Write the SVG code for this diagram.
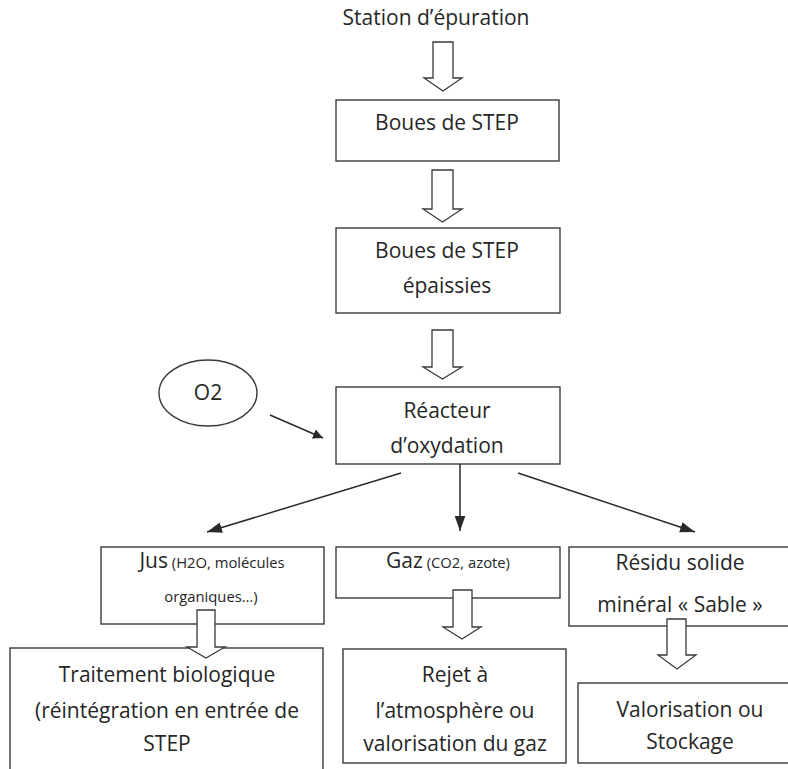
<svg xmlns="http://www.w3.org/2000/svg" width="788" height="769" viewBox="0 0 788 769">
  <style>
    .box { fill: #ffffff; stroke: #3a3a3a; stroke-width: 1.4; }
    .hollow { fill: #ffffff; stroke: #3a3a3a; stroke-width: 1.3; stroke-linejoin: miter; }
    .link { fill: none; stroke: #2a2a2a; stroke-width: 1.5; }
    text { font-family: "Open Sans", "Noto Sans", sans-serif; font-size: 21px; fill: #262626; text-anchor: middle; }
    .small { font-size: 14.8px; }
  </style>
  <defs>
    <marker id="head" viewBox="0 0 10 10" refX="10" refY="5" markerWidth="10" markerHeight="10" markerUnits="userSpaceOnUse" orient="auto">
      <path d="M0,0 L10,5 L0,10 z" fill="#2a2a2a"/>
    </marker>
    <marker id="headL" viewBox="0 0 14 10" refX="14" refY="5" markerWidth="15" markerHeight="11" markerUnits="userSpaceOnUse" orient="auto">
      <path d="M0,0 L14,5 L0,10 z" fill="#2a2a2a"/>
    </marker>
  </defs>

  <!-- source label -->
  <g id="source">
    <text x="436" y="25">Station d’épuration</text>
  </g>

  <g id="boues">
    <rect class="box" x="336" y="100" width="223" height="61"/>
    <text x="447" y="130">Boues de STEP</text>
  </g>

  <g id="boues-epaissies">
    <rect class="box" x="336" y="228" width="224" height="85"/>
    <text x="447" y="258">Boues de STEP</text>
    <text x="447" y="293">épaissies</text>
  </g>

  <g id="reacteur">
    <rect class="box" x="336" y="387" width="224" height="77"/>
    <text x="447" y="418">Réacteur</text>
    <text x="447" y="453">d’oxydation</text>
  </g>

  <g id="o2">
    <ellipse class="box" cx="208" cy="393" rx="49" ry="33"/>
    <text x="208" y="400">O2</text>
  </g>

  <g id="jus">
    <rect class="box" x="101" y="547" width="223" height="77"/>
    <text x="212" y="568"><tspan>Jus</tspan><tspan class="small"> (H2O, molécules</tspan></text>
    <text class="small" x="211" y="602">organiques…)</text>
  </g>

  <g id="gaz">
    <rect class="box" x="336" y="547" width="224" height="51"/>
    <text x="448" y="568"><tspan>Gaz</tspan><tspan class="small"> (CO2, azote)</tspan></text>
  </g>

  <g id="residu">
    <rect class="box" x="569" y="547" width="230" height="79"/>
    <text x="680" y="570">Résidu solide</text>
    <text x="680" y="612">minéral « Sable »</text>
  </g>

  <g id="traitement">
    <rect class="box" x="10" y="648" width="313" height="130"/>
    <text x="167" y="682">Traitement biologique</text>
    <text x="167" y="718">(réintégration en entrée de</text>
    <text x="167" y="751">STEP</text>
  </g>

  <g id="rejet">
    <rect class="box" x="343" y="649" width="223" height="114"/>
    <text x="455" y="682">Rejet à</text>
    <text x="455" y="718">l’atmosphère ou</text>
    <text x="455" y="751">valorisation du gaz</text>
  </g>

  <g id="valorisation">
    <rect class="box" x="578" y="683" width="221" height="80"/>
    <text x="690" y="717">Valorisation ou</text>
    <text x="690" y="749">Stockage</text>
  </g>

  <!-- connectors -->
  <g id="connectors">
    <!-- block arrows along the main chain -->
    <path class="hollow" d="M433,42 H453 V78 H462 L443,91 L424,78 H433 Z"/>
    <path class="hollow" d="M432,170 H453 V209 H462 L442.5,222 L423,209 H432 Z"/>
    <path class="hollow" d="M432,330 H453 V367 H462 L442.5,379 L423,367 H432 Z"/>
    <!-- block arrows below the outputs -->
    <path class="hollow" d="M197,610 H215 V647 H225 L206,658 L187,647 H197 Z"/>
    <path class="hollow" d="M453,590 H472 V627 H481 L462,639 L443,627 H453 Z"/>
    <path class="hollow" d="M667,619 H686 V655 H696 L677,669 L658,655 H667 Z"/>
    <!-- oxygen feed -->
    <line class="link" x1="270" y1="415" x2="323" y2="438" marker-end="url(#head)"/>
    <!-- reactor outputs -->
    <line class="link" x1="401" y1="473" x2="207" y2="532" marker-end="url(#headL)"/>
    <line class="link" x1="460" y1="464" x2="460" y2="531" marker-end="url(#headL)"/>
    <line class="link" x1="518" y1="473" x2="695" y2="532" marker-end="url(#headL)"/>
  </g>
</svg>
